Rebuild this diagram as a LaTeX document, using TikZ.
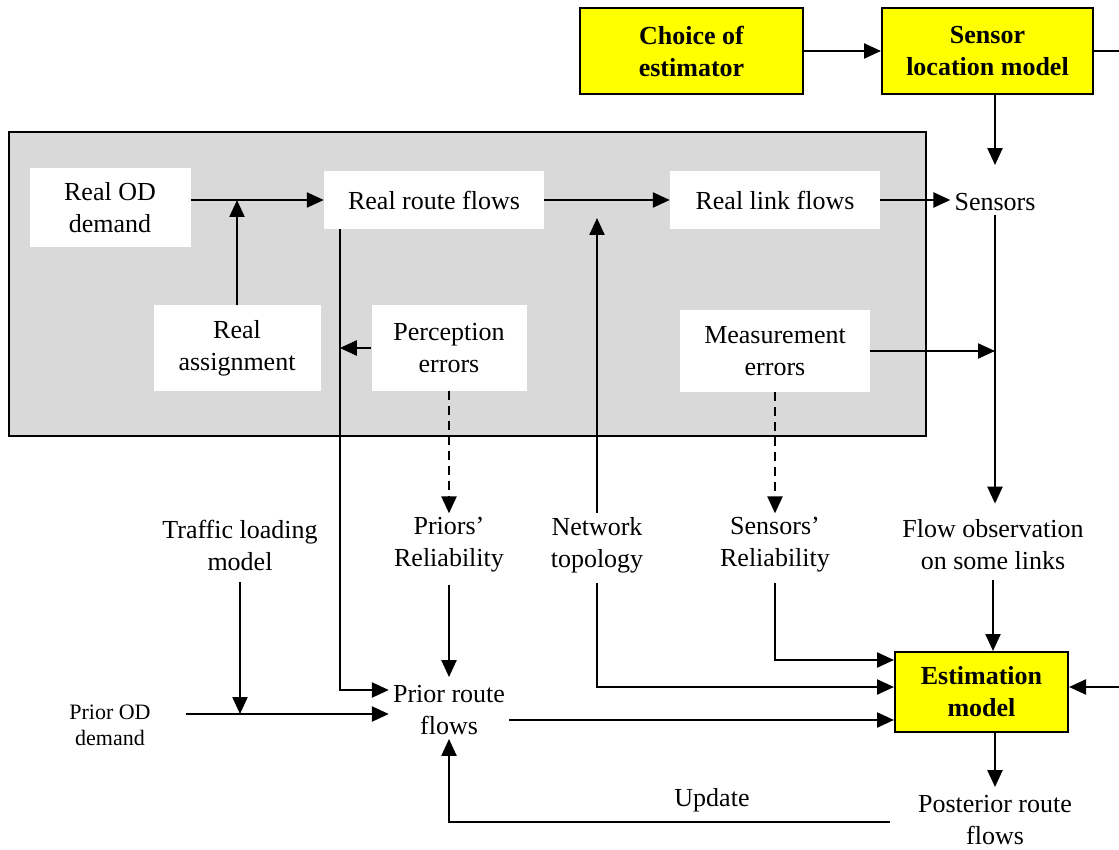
\documentclass[tikz,border=0pt]{standalone}
\usepackage{fontspec}
\setmainfont{Liberation Serif}
\usetikzlibrary{arrows.meta}
\definecolor{boxyellow}{HTML}{FFFF00}
\definecolor{panelgray}{HTML}{D9D9D9}
\begin{document}
\begin{tikzpicture}[x=1pt,y=-1pt,
  txt/.style={font=\fontsize{26}{32}\selectfont, align=center, inner sep=4pt},
  smalltxt/.style={font=\fontsize{22}{26}\selectfont, align=center, inner sep=3pt},
  wbox/.style={txt, fill=white, draw=none},
  ybox/.style={txt, font=\fontsize{26}{32}\selectfont\bfseries, fill=boxyellow, draw=black, line width=2pt},
  line/.style={line width=2.3pt},
  arr/.style={line, -{Triangle[length=17pt,width=15pt]}},
  darr/.style={arr, dash pattern=on 9pt off 6pt}
]
\useasboundingbox (0,0) rectangle (1119,850);

% shaded panel holding the "real" quantities
\draw[fill=panelgray, line width=1.5pt] (9,132) rectangle (926,436);

% top model boxes
\node[ybox, minimum width=223, minimum height=86] (choice) at (691.5,51) {Choice of\\estimator};
\node[ybox, minimum width=211, minimum height=86] (sensorloc) at (987.5,51) {Sensor\\location model};
\coordinate (exitR) at (1119,51);

% real system
\node[wbox, minimum width=161, minimum height=79] (realod) at (110,208) {Real OD\\demand};
\node[wbox, minimum width=220, minimum height=58] (realroute) at (434,200) {Real route flows};
\node[wbox, minimum width=210, minimum height=58] (reallink) at (775,200) {Real link flows};
\node[wbox, minimum width=167, minimum height=85] (realassign) at (237,348) {Real\\assignment};
\node[wbox, minimum width=155, minimum height=85] (percep) at (449,348) {Perception\\errors};
\node[wbox, minimum width=190, minimum height=82] (measure) at (775,351) {Measurement\\errors};
\node[txt] (sensors) at (995,202) {Sensors};

% estimation inputs
\node[txt] (traffic) at (240,545) {Traffic loading\\model};
\node[txt] (priorsrel) at (449,545) {Priors'\\Reliability};
\node[txt] (nettop) at (597,545) {Network\\topology};
\node[txt] (sensrel) at (775,545) {Sensors'\\Reliability};
\node[txt] (flowobs) at (993,545) {Flow observation\\on some links};
\node[smalltxt] (priorod) at (110,725) {Prior OD\\demand};
\node[txt] (priorroute) at (449,710) {Prior route\\flows};
\node[ybox, minimum width=173, minimum height=80] (estim) at (981.5,692) {Estimation\\model};
\node[txt] (posterior) at (995,820) {Posterior route\\flows};
\node[txt] (update) at (712,800) {Update};
\coordinate (entR) at (1119,687);

% connectors
\draw[arr] (choice) -- (sensorloc);
\draw[line] (sensorloc.east) -- (exitR);
\draw[arr, shorten >=24pt] (sensors.north |- sensorloc.south) -- (sensors.north);

\draw[arr] (realod.east |- realroute.west) -- (realroute.west);
\draw[arr] (realassign.north) -- (realassign.north |- realroute.west);
\draw[arr] (realroute.east) -- (reallink.west);
\draw[arr] (reallink.east) -- (sensors.west |- reallink.east);
\draw[arr, shorten >=18pt] (nettop.north) -- (nettop.north |- realroute.east);

\coordinate (routeleg) at ([xshift=16pt]realroute.south west);
\draw[arr] (routeleg) |- ([yshift=20pt]priorroute.west);
\draw[arr] (percep.west) -- (routeleg |- percep.west);

\draw[arr] (measure.east) -- (sensors.south |- measure.east);
\draw[arr, shorten >=12pt] (sensors.south) -- (sensors.south |- flowobs.north);

\draw[darr] (percep.south) -- (priorsrel.north);
\draw[darr] (measure.south) -- (sensrel.north);

\draw[arr, shorten <=32pt] (priorod.east |- 0,714) -- ([yshift=-4pt]priorroute.west);
\draw[arr, shorten <=8pt] (traffic.south) -- (traffic.south |- 0,714);
\draw[arr, shorten <=8pt, shorten >=4pt] (priorsrel.south) -- (priorroute.north);

\draw[arr] ([yshift=-10pt]priorroute.east) -- (estim.west |- 0,720);
\draw[arr, shorten <=6pt] (sensrel.south) |- ([yshift=32pt]estim.west);
\draw[arr, shorten <=6pt] (nettop.south) |- ([yshift=5pt]estim.west);
\draw[arr, shorten <=6pt] (flowobs.south) -- (flowobs.south |- estim.north);
\draw[arr] (entR) -- (estim.east |- entR);

\draw[arr, shorten >=4pt] (posterior.north |- estim.south) -- (posterior.north);
\draw[arr] ([xshift=-24pt]posterior.west |- 0,822) -| (priorroute.south);
\end{tikzpicture}
\end{document}
